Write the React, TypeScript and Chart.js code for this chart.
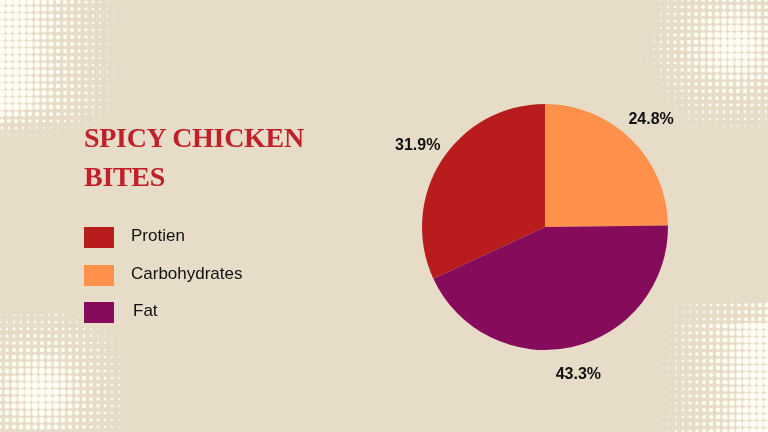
import { useEffect, useRef } from "react";
import { Chart, registerables } from "chart.js";

Chart.register(...registerables);

const categories = ["Protien", "Carbohydrates", "Fat"];
const values = [31.9, 24.8, 43.3];
const colors = ["#B91C1C", "#FF914D", "#870B5B"];

const BG = "#E7DCC8";
const DOT = "#FFFCF2";

// halftone dot decoration in the corners
function halftone(
  ctx: CanvasRenderingContext2D,
  x0: number, y0: number, x1: number, y1: number,
  step: number, maxR: number,
  f: (x: number, y: number) => number
) {
  ctx.fillStyle = DOT;
  for (let y = y0; y <= y1; y += step) {
    for (let x = x0; x <= x1; x += step) {
      const k = Math.max(0, Math.min(1, f(x, y)));
      if (k <= 0.05) continue;
      ctx.beginPath();
      ctx.arc(x, y, maxR * k, 0, Math.PI * 2);
      ctx.fill();
    }
  }
}

const backdrop = {
  id: "backdrop",
  beforeDraw(chart: Chart) {
    const ctx = chart.ctx;
    ctx.save();
    ctx.fillStyle = BG;
    ctx.fillRect(0, 0, chart.width, chart.height);
    // top-left: strongest at the left edge
    halftone(ctx, 2, 2, 140, 135, 7, 3.6, (x, y) => {
      const h = 1 - x / 135;
      const v = y > 105 ? 1 - (y - 105) / 35 : 1;
      return h * 1.15 * v;
    });
    // top-right: round burst
    halftone(ctx, 640, 0, 768, 140, 7, 3.6, (x, y) => {
      const d = Math.hypot(x - 735, y - 45);
      return 1.1 - d / 95;
    });
    // bottom-left: round burst
    halftone(ctx, 0, 315, 120, 432, 7, 3.6, (x, y) => {
      const d = Math.hypot(x - 40, y - 392);
      return 1.1 - d / 95;
    });
    // bottom-right: strongest at the right edge
    halftone(ctx, 648, 305, 768, 432, 7, 3.6, (x, y) => {
      const h = (x - 645) / 110;
      const v = y < 320 ? 0.6 : 1;
      return h * v;
    });
    ctx.restore();
  },
};

const pctLabels = {
  id: "pctLabels",
  afterDatasetsDraw(chart: Chart) {
    const ctx = chart.ctx;
    const meta = chart.getDatasetMeta(0);
    const total = values.reduce((a, b) => a + b, 0);
    ctx.save();
    ctx.font = "bold 16px 'Liberation Sans', Arial, sans-serif";
    ctx.fillStyle = "#111111";
    ctx.textAlign = "center";
    ctx.textBaseline = "middle";
    meta.data.forEach((el: any, i: number) => {
      const { x, y, startAngle, endAngle, outerRadius } = el.getProps(
        ["x", "y", "startAngle", "endAngle", "outerRadius"],
        true
      );
      const mid = (startAngle + endAngle) / 2;
      const r = outerRadius + 28;
      const pct = ((values[i] / total) * 100).toFixed(1) + "%";
      ctx.fillText(pct, x + Math.cos(mid) * r, y + Math.sin(mid) * r);
    });
    ctx.restore();
  },
};

export default function App() {
  const canvasRef = useRef<HTMLCanvasElement>(null);
  const chartRef = useRef<Chart | null>(null);

  useEffect(() => {
    document.body.style.margin = "0";
    if (!canvasRef.current) return;
    if (chartRef.current) chartRef.current.destroy();
    const total = values.reduce((a, b) => a + b, 0);
    chartRef.current = new Chart(canvasRef.current, {
      type: "pie",
      data: {
        labels: categories,
        datasets: [
          {
            data: values,
            backgroundColor: colors,
            borderWidth: 0,
          },
        ],
      },
      options: {
        animation: false,
        responsive: true,
        maintainAspectRatio: false,
        // protein ends at 12 o'clock so carbohydrates starts there
        rotation: -(values[0] / total) * 360,
        layout: { padding: { left: 422, right: 100, top: 104, bottom: 82 } },
        plugins: {
          legend: { display: false },
          tooltip: { enabled: false },
        },
      },
      plugins: [backdrop, pctLabels],
    });
    return () => {
      if (chartRef.current) {
        chartRef.current.destroy();
        chartRef.current = null;
      }
    };
  }, []);

  return (
    <div style={{ position: "fixed", left: 0, top: 0, width: 768, height: 432, background: BG, overflow: "hidden" }}>
      <div style={{ position: "absolute", left: 0, top: 0, width: 768, height: 432 }}>
        <canvas ref={canvasRef}></canvas>
      </div>
      <div
        style={{
          position: "absolute",
          left: 84,
          top: 118,
          fontFamily: "'Liberation Serif', 'Times New Roman', serif",
          fontWeight: "bold",
          fontSize: 28,
          lineHeight: "39px",
          color: "#C0202A",
          letterSpacing: -0.3,
        }}
      >
        SPICY CHICKEN
        <br />
        BITES
      </div>
      {categories.map((c, i) => (
        <div
          key={c}
          style={{
            position: "absolute",
            left: 84,
            top: 227 + i * 37.5,
            height: 21,
            display: "flex",
            alignItems: "center",
            fontFamily: "'Liberation Sans', Arial, sans-serif",
            fontSize: 17,
            color: "#111111",
          }}
        >
          <span style={{ display: "inline-block", width: 30, height: 21, background: colors[i] }}></span>
          <span style={{ marginLeft: i === 2 ? 19 : 17, marginTop: -3 }}>{c}</span>
        </div>
      ))}
    </div>
  );
}
